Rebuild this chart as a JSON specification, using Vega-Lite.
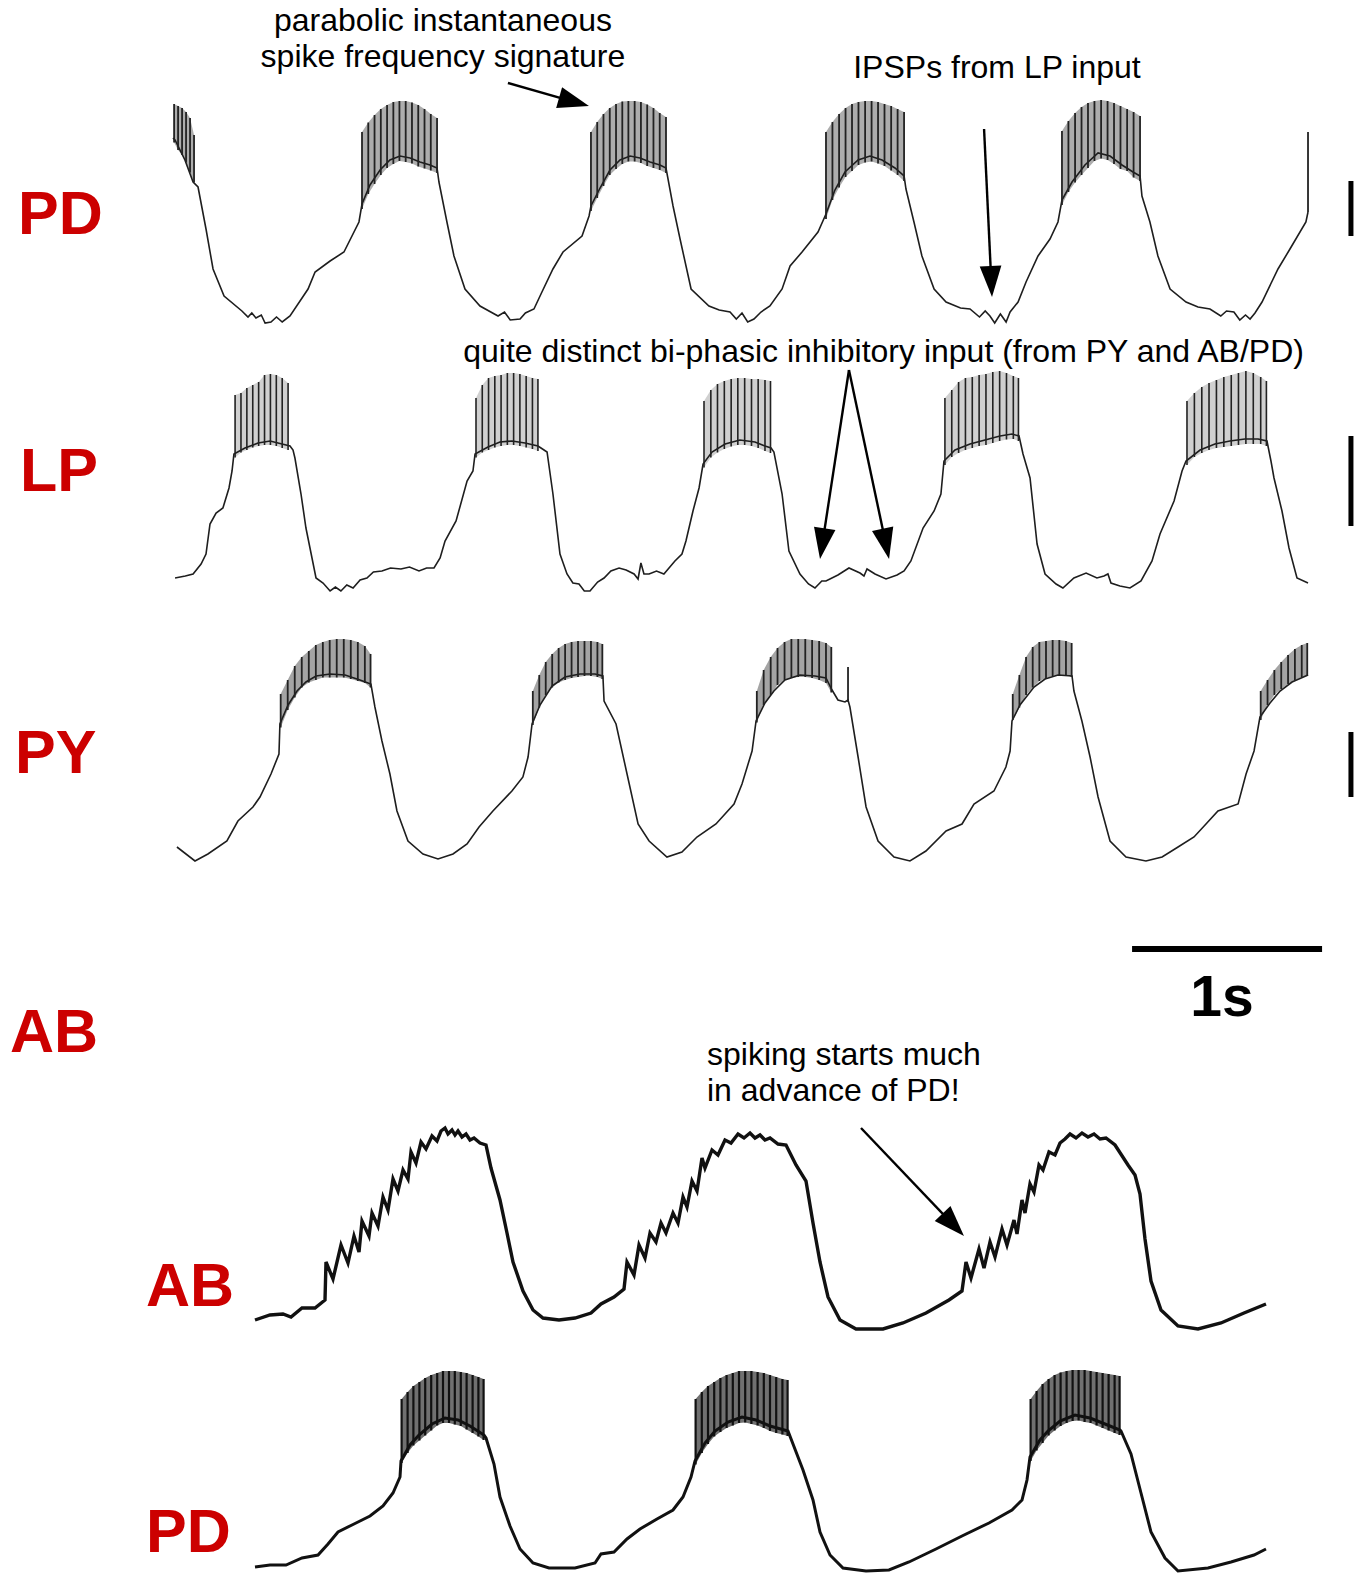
{
"$schema": "https://vega.github.io/schema/vega-lite/v6.json",
"padding": 0,
"spacing": 0,
"bounds": "flush",
"background": "white",
"config": {"view": {"stroke": null}, "text": {"font": "Liberation Sans"}},
"datasets": {
"pdTop": [{"t":0.005,"v":-23.6},{"t":0.016,"v":-24.0},{"t":0.068,"v":-28.0},{"t":0.111,"v":-32.4},{"t":0.137,"v":-33.4},{"t":0.179,"v":-41.8},{"t":0.216,"v":-49.8},{"t":0.274,"v":-55.2},{"t":0.368,"v":-58.2},{"t":0.40,"v":-59.4},{"t":0.42,"v":-58.6},{"t":0.442,"v":-59.6},{"t":0.47,"v":-59.0},{"t":0.49,"v":-60.6},{"t":0.521,"v":-60.4},{"t":0.55,"v":-59.4},{"t":0.58,"v":-60.4},{"t":0.621,"v":-59.2},{"t":0.716,"v":-53.8},{"t":0.753,"v":-50.4},{"t":0.832,"v":-48.2},{"t":0.905,"v":-46.4},{"t":0.984,"v":-40.4},{"t":1.0,"v":-36.8},{"t":1.042,"v":-33.0},{"t":1.095,"v":-30.0},{"t":1.147,"v":-28.0},{"t":1.2,"v":-27.2},{"t":1.253,"v":-27.6},{"t":1.305,"v":-28.4},{"t":1.358,"v":-29.0},{"t":1.395,"v":-29.6},{"t":1.405,"v":-32.4},{"t":1.447,"v":-40.4},{"t":1.484,"v":-47.2},{"t":1.542,"v":-53.8},{"t":1.621,"v":-57.2},{"t":1.716,"v":-59.2},{"t":1.75,"v":-58.4},{"t":1.78,"v":-60.0},{"t":1.832,"v":-59.8},{"t":1.86,"v":-58.6},{"t":1.905,"v":-57.8},{"t":1.947,"v":-54.4},{"t":2.005,"v":-49.8},{"t":2.058,"v":-46.4},{"t":2.158,"v":-43.2},{"t":2.195,"v":-39.2},{"t":2.205,"v":-37.2},{"t":2.253,"v":-33.6},{"t":2.305,"v":-30.0},{"t":2.358,"v":-28.0},{"t":2.411,"v":-27.2},{"t":2.463,"v":-27.6},{"t":2.516,"v":-28.4},{"t":2.568,"v":-29.0},{"t":2.6,"v":-29.6},{"t":2.637,"v":-37.2},{"t":2.674,"v":-43.8},{"t":2.732,"v":-53.8},{"t":2.826,"v":-57.2},{"t":2.88,"v":-58.0},{"t":2.937,"v":-58.4},{"t":2.97,"v":-59.8},{"t":3.0,"v":-58.6},{"t":3.03,"v":-60.4},{"t":3.063,"v":-59.8},{"t":3.1,"v":-58.4},{"t":3.147,"v":-57.2},{"t":3.211,"v":-53.8},{"t":3.253,"v":-49.2},{"t":3.316,"v":-46.4},{"t":3.4,"v":-42.4},{"t":3.442,"v":-38.8},{"t":3.489,"v":-34.0},{"t":3.542,"v":-30.4},{"t":3.611,"v":-28.0},{"t":3.674,"v":-27.2},{"t":3.737,"v":-28.0},{"t":3.805,"v":-29.6},{"t":3.853,"v":-31.2},{"t":3.863,"v":-33.8},{"t":3.905,"v":-40.4},{"t":3.947,"v":-47.2},{"t":4.011,"v":-53.8},{"t":4.074,"v":-56.4},{"t":4.15,"v":-57.6},{"t":4.2,"v":-57.8},{"t":4.25,"v":-59.4},{"t":4.28,"v":-58.2},{"t":4.305,"v":-59.2},{"t":4.33,"v":-60.6},{"t":4.36,"v":-58.8},{"t":4.39,"v":-60.4},{"t":4.411,"v":-58.4},{"t":4.453,"v":-56.4},{"t":4.495,"v":-52.4},{"t":4.558,"v":-47.2},{"t":4.621,"v":-43.8},{"t":4.663,"v":-40.4},{"t":4.684,"v":-36.0},{"t":4.737,"v":-32.4},{"t":4.805,"v":-29.0},{"t":4.874,"v":-26.6},{"t":4.937,"v":-27.2},{"t":5.0,"v":-29.0},{"t":5.058,"v":-30.4},{"t":5.095,"v":-31.2},{"t":5.105,"v":-35.2},{"t":5.147,"v":-40.4},{"t":5.189,"v":-47.2},{"t":5.253,"v":-53.8},{"t":5.337,"v":-56.4},{"t":5.4,"v":-57.4},{"t":5.463,"v":-57.8},{"t":5.52,"v":-59.2},{"t":5.55,"v":-58.2},{"t":5.589,"v":-58.4},{"t":5.62,"v":-60.0},{"t":5.65,"v":-59.0},{"t":5.674,"v":-59.8},{"t":5.70,"v":-58.6},{"t":5.737,"v":-56.4},{"t":5.821,"v":-49.8},{"t":5.884,"v":-45.8},{"t":5.968,"v":-40.4},{"t":5.979,"v":-38.4}],
"pdTopSpk": [{"b":0,"t":0.011,"lo":-24.5,"hi":-16.8},{"b":0,"t":0.032,"lo":-26,"hi":-17.2},{"b":0,"t":0.053,"lo":-27,"hi":-17.6},{"b":0,"t":0.074,"lo":-28.5,"hi":-18.4},{"b":0,"t":0.095,"lo":-30.5,"hi":-19.6},{"b":0,"t":0.116,"lo":-32.5,"hi":-23.0},
{"b":1,"t":1.000,"lo":-37.8,"hi":-22.4},{"b":1,"t":1.033,"lo":-34.8,"hi":-20.5},{"b":1,"t":1.066,"lo":-32.8,"hi":-19.0},{"b":1,"t":1.099,"lo":-31.0,"hi":-17.8},{"b":1,"t":1.132,"lo":-29.6,"hi":-17.0},{"b":1,"t":1.165,"lo":-28.8,"hi":-16.4},{"b":1,"t":1.197,"lo":-28.2,"hi":-16.2},{"b":1,"t":1.230,"lo":-28.4,"hi":-16.2},{"b":1,"t":1.263,"lo":-28.7,"hi":-16.5},{"b":1,"t":1.296,"lo":-29.3,"hi":-17.0},{"b":1,"t":1.329,"lo":-29.7,"hi":-17.8},{"b":1,"t":1.362,"lo":-30.1,"hi":-18.8},{"b":1,"t":1.395,"lo":-30.6,"hi":-19.6},
{"b":2,"t":2.205,"lo":-38.2,"hi":-22.4},{"b":2,"t":2.238,"lo":-35.6,"hi":-20.4},{"b":2,"t":2.271,"lo":-33.2,"hi":-18.8},{"b":2,"t":2.304,"lo":-31.0,"hi":-17.6},{"b":2,"t":2.337,"lo":-29.8,"hi":-16.8},{"b":2,"t":2.370,"lo":-28.8,"hi":-16.3},{"b":2,"t":2.402,"lo":-28.3,"hi":-16.2},{"b":2,"t":2.435,"lo":-28.3,"hi":-16.2},{"b":2,"t":2.468,"lo":-28.6,"hi":-16.4},{"b":2,"t":2.501,"lo":-29.2,"hi":-16.9},{"b":2,"t":2.534,"lo":-29.6,"hi":-17.6},{"b":2,"t":2.567,"lo":-30.0,"hi":-18.6},{"b":2,"t":2.600,"lo":-30.6,"hi":-19.4},
{"b":3,"t":3.442,"lo":-39.8,"hi":-22.4},{"b":3,"t":3.476,"lo":-36.0,"hi":-20.4},{"b":3,"t":3.511,"lo":-33.5,"hi":-18.8},{"b":3,"t":3.545,"lo":-31.4,"hi":-17.6},{"b":3,"t":3.579,"lo":-30.2,"hi":-16.8},{"b":3,"t":3.613,"lo":-29.0,"hi":-16.4},{"b":3,"t":3.648,"lo":-28.5,"hi":-16.2},{"b":3,"t":3.682,"lo":-28.3,"hi":-16.2},{"b":3,"t":3.716,"lo":-28.7,"hi":-16.4},{"b":3,"t":3.750,"lo":-29.2,"hi":-16.8},{"b":3,"t":3.785,"lo":-30.1,"hi":-17.2},{"b":3,"t":3.819,"lo":-31.0,"hi":-17.8},{"b":3,"t":3.853,"lo":-32.2,"hi":-18.4},
{"b":4,"t":4.684,"lo":-37.0,"hi":-22.2},{"b":4,"t":4.718,"lo":-34.4,"hi":-20.2},{"b":4,"t":4.753,"lo":-32.5,"hi":-18.6},{"b":4,"t":4.787,"lo":-31.0,"hi":-17.4},{"b":4,"t":4.821,"lo":-29.6,"hi":-16.6},{"b":4,"t":4.855,"lo":-28.2,"hi":-16.2},{"b":4,"t":4.890,"lo":-27.7,"hi":-16.0},{"b":4,"t":4.924,"lo":-28.0,"hi":-16.2},{"b":4,"t":4.958,"lo":-28.8,"hi":-16.6},{"b":4,"t":4.992,"lo":-29.8,"hi":-17.2},{"b":4,"t":5.027,"lo":-30.2,"hi":-17.8},{"b":4,"t":5.061,"lo":-31.5,"hi":-18.4},{"b":4,"t":5.095,"lo":-32.2,"hi":-19.2},
{"b":5,"t":5.979,"lo":-38.4,"hi":-22.4}],
"lp": [{"t":0.016,"v":-57.6},{"t":0.07,"v":-57.2},{"t":0.111,"v":-56.8},{"t":0.153,"v":-54.8},{"t":0.179,"v":-52.8},{"t":0.2,"v":-46.8},{"t":0.232,"v":-44.6},{"t":0.268,"v":-43.6},{"t":0.3,"v":-39.6},{"t":0.316,"v":-36.2},{"t":0.326,"v":-32.8},{"t":0.384,"v":-31.6},{"t":0.453,"v":-30.6},{"t":0.516,"v":-30.2},{"t":0.579,"v":-30.8},{"t":0.621,"v":-31.2},{"t":0.637,"v":-32.0},{"t":0.647,"v":-33.6},{"t":0.679,"v":-40.8},{"t":0.705,"v":-47.6},{"t":0.758,"v":-57.6},{"t":0.795,"v":-58.6},{"t":0.832,"v":-60.2},{"t":0.86,"v":-59.4},{"t":0.889,"v":-60.2},{"t":0.92,"v":-59.0},{"t":0.953,"v":-59.6},{"t":0.99,"v":-58.0},{"t":1.026,"v":-57.6},{"t":1.06,"v":-56.4},{"t":1.105,"v":-56.2},{"t":1.15,"v":-55.6},{"t":1.205,"v":-55.8},{"t":1.25,"v":-55.4},{"t":1.3,"v":-56.2},{"t":1.34,"v":-55.6},{"t":1.379,"v":-55.6},{"t":1.411,"v":-53.6},{"t":1.437,"v":-50.2},{"t":1.495,"v":-46.2},{"t":1.553,"v":-38.2},{"t":1.584,"v":-36.2},{"t":1.595,"v":-32.8},{"t":1.663,"v":-31.4},{"t":1.726,"v":-30.4},{"t":1.789,"v":-30.2},{"t":1.858,"v":-30.6},{"t":1.926,"v":-31.2},{"t":1.942,"v":-31.6},{"t":1.974,"v":-32.4},{"t":2.005,"v":-40.8},{"t":2.042,"v":-52.8},{"t":2.079,"v":-56.8},{"t":2.11,"v":-58.6},{"t":2.142,"v":-58.8},{"t":2.17,"v":-60.2},{"t":2.2,"v":-60.2},{"t":2.24,"v":-58.4},{"t":2.274,"v":-57.6},{"t":2.31,"v":-56.2},{"t":2.353,"v":-55.6},{"t":2.39,"v":-56.0},{"t":2.432,"v":-56.8},{"t":2.453,"v":-57.8},{"t":2.468,"v":-54.6},{"t":2.484,"v":-56.8},{"t":2.511,"v":-56.8},{"t":2.55,"v":-56.2},{"t":2.589,"v":-56.8},{"t":2.647,"v":-54.2},{"t":2.684,"v":-52.8},{"t":2.705,"v":-50.2},{"t":2.742,"v":-44.2},{"t":2.774,"v":-39.6},{"t":2.795,"v":-34.8},{"t":2.842,"v":-32.4},{"t":2.911,"v":-30.8},{"t":2.989,"v":-30.0},{"t":3.068,"v":-30.4},{"t":3.121,"v":-31.2},{"t":3.153,"v":-31.6},{"t":3.168,"v":-32.4},{"t":3.211,"v":-40.8},{"t":3.247,"v":-52.2},{"t":3.305,"v":-56.8},{"t":3.35,"v":-58.8},{"t":3.384,"v":-59.6},{"t":3.42,"v":-58.2},{"t":3.442,"v":-58.2},{"t":3.505,"v":-57.0},{"t":3.563,"v":-55.6},{"t":3.621,"v":-56.6},{"t":3.642,"v":-57.2},{"t":3.658,"v":-55.8},{"t":3.7,"v":-56.8},{"t":3.758,"v":-57.8},{"t":3.816,"v":-57.0},{"t":3.853,"v":-56.2},{"t":3.889,"v":-54.2},{"t":3.953,"v":-47.6},{"t":4.011,"v":-44.2},{"t":4.047,"v":-40.8},{"t":4.063,"v":-34.2},{"t":4.121,"v":-32.0},{"t":4.2,"v":-30.8},{"t":4.279,"v":-30.0},{"t":4.358,"v":-29.2},{"t":4.421,"v":-28.8},{"t":4.458,"v":-29.2},{"t":4.479,"v":-32.8},{"t":4.516,"v":-37.6},{"t":4.553,"v":-50.8},{"t":4.595,"v":-56.8},{"t":4.653,"v":-58.8},{"t":4.689,"v":-59.6},{"t":4.747,"v":-57.6},{"t":4.811,"v":-56.6},{"t":4.868,"v":-57.6},{"t":4.905,"v":-57.2},{"t":4.926,"v":-56.8},{"t":4.942,"v":-58.6},{"t":4.989,"v":-59.2},{"t":5.042,"v":-59.6},{"t":5.1,"v":-58.2},{"t":5.158,"v":-54.2},{"t":5.2,"v":-48.8},{"t":5.274,"v":-42.2},{"t":5.316,"v":-36.2},{"t":5.337,"v":-34.2},{"t":5.411,"v":-32.0},{"t":5.489,"v":-30.8},{"t":5.568,"v":-30.2},{"t":5.647,"v":-29.8},{"t":5.716,"v":-29.8},{"t":5.763,"v":-30.2},{"t":5.784,"v":-34.2},{"t":5.8,"v":-37.6},{"t":5.842,"v":-44.2},{"t":5.879,"v":-51.6},{"t":5.921,"v":-57.6},{"t":5.979,"v":-58.6}],
"lpSpk": [{"b":1,"t":0.332,"lo":-33.5,"hi":-21.0},{"b":1,"t":0.363,"lo":-32.5,"hi":-20.6},{"b":1,"t":0.394,"lo":-32.0,"hi":-19.6},{"b":1,"t":0.425,"lo":-31.5,"hi":-19.0},{"b":1,"t":0.456,"lo":-31.2,"hi":-18.4},{"b":1,"t":0.487,"lo":-31.0,"hi":-17.0},{"b":1,"t":0.518,"lo":-31.0,"hi":-16.8},{"b":1,"t":0.549,"lo":-31.2,"hi":-17.0},{"b":1,"t":0.580,"lo":-31.6,"hi":-17.6},{"b":1,"t":0.611,"lo":-32.0,"hi":-18.6},
{"b":2,"t":1.600,"lo":-33.5,"hi":-21.6},{"b":2,"t":1.633,"lo":-32.5,"hi":-19.0},{"b":2,"t":1.666,"lo":-32.0,"hi":-17.6},{"b":2,"t":1.699,"lo":-31.5,"hi":-17.2},{"b":2,"t":1.732,"lo":-31.2,"hi":-17.0},{"b":2,"t":1.765,"lo":-31.0,"hi":-16.6},{"b":2,"t":1.798,"lo":-31.0,"hi":-16.6},{"b":2,"t":1.831,"lo":-31.2,"hi":-16.8},{"b":2,"t":1.864,"lo":-31.5,"hi":-17.2},{"b":2,"t":1.897,"lo":-31.8,"hi":-17.6},{"b":2,"t":1.926,"lo":-32.2,"hi":-17.8},
{"b":3,"t":2.800,"lo":-35.5,"hi":-22.2},{"b":3,"t":2.836,"lo":-33.5,"hi":-20.0},{"b":3,"t":2.871,"lo":-32.5,"hi":-18.8},{"b":3,"t":2.907,"lo":-31.8,"hi":-18.2},{"b":3,"t":2.943,"lo":-31.3,"hi":-17.8},{"b":3,"t":2.978,"lo":-31.0,"hi":-17.6},{"b":3,"t":3.014,"lo":-31.0,"hi":-17.6},{"b":3,"t":3.050,"lo":-31.2,"hi":-17.8},{"b":3,"t":3.085,"lo":-31.6,"hi":-17.8},{"b":3,"t":3.121,"lo":-32.2,"hi":-18.0},{"b":3,"t":3.150,"lo":-32.6,"hi":-18.2},
{"b":4,"t":4.068,"lo":-35.0,"hi":-21.6},{"b":4,"t":4.104,"lo":-33.4,"hi":-20.0},{"b":4,"t":4.140,"lo":-32.6,"hi":-18.4},{"b":4,"t":4.176,"lo":-32.0,"hi":-17.6},{"b":4,"t":4.212,"lo":-31.6,"hi":-17.4},{"b":4,"t":4.248,"lo":-31.2,"hi":-17.0},{"b":4,"t":4.284,"lo":-31.0,"hi":-16.8},{"b":4,"t":4.320,"lo":-30.6,"hi":-16.4},{"b":4,"t":4.356,"lo":-30.2,"hi":-16.2},{"b":4,"t":4.392,"lo":-29.9,"hi":-16.6},{"b":4,"t":4.428,"lo":-29.8,"hi":-17.2},{"b":4,"t":4.455,"lo":-30.2,"hi":-17.6},
{"b":5,"t":5.342,"lo":-35.0,"hi":-22.2},{"b":5,"t":5.381,"lo":-33.4,"hi":-20.6},{"b":5,"t":5.420,"lo":-32.6,"hi":-19.4},{"b":5,"t":5.458,"lo":-32.0,"hi":-18.6},{"b":5,"t":5.497,"lo":-31.6,"hi":-18.0},{"b":5,"t":5.536,"lo":-31.4,"hi":-17.4},{"b":5,"t":5.575,"lo":-31.2,"hi":-17.0},{"b":5,"t":5.613,"lo":-31.0,"hi":-16.6},{"b":5,"t":5.652,"lo":-30.8,"hi":-16.2},{"b":5,"t":5.691,"lo":-30.8,"hi":-16.6},{"b":5,"t":5.730,"lo":-30.8,"hi":-17.4},{"b":5,"t":5.760,"lo":-31.2,"hi":-18.2}],
"py": [{"t":0.026,"v":-57.4},{"t":0.121,"v":-60.2},{"t":0.189,"v":-58.8},{"t":0.289,"v":-56.2},{"t":0.347,"v":-52.2},{"t":0.426,"v":-49.4},{"t":0.463,"v":-47.4},{"t":0.521,"v":-42.8},{"t":0.563,"v":-38.8},{"t":0.568,"v":-32.8},{"t":0.611,"v":-29.0},{"t":0.658,"v":-26.2},{"t":0.705,"v":-24.4},{"t":0.758,"v":-23.2},{"t":0.832,"v":-22.8},{"t":0.911,"v":-23.0},{"t":0.989,"v":-24.0},{"t":1.047,"v":-24.8},{"t":1.068,"v":-29.4},{"t":1.105,"v":-36.2},{"t":1.147,"v":-42.8},{"t":1.184,"v":-50.2},{"t":1.242,"v":-56.2},{"t":1.321,"v":-58.8},{"t":1.4,"v":-59.8},{"t":1.479,"v":-58.8},{"t":1.553,"v":-56.8},{"t":1.616,"v":-53.4},{"t":1.689,"v":-50.2},{"t":1.789,"v":-46.2},{"t":1.847,"v":-43.4},{"t":1.874,"v":-39.4},{"t":1.895,"v":-32.8},{"t":1.937,"v":-29.0},{"t":2.0,"v":-25.2},{"t":2.068,"v":-23.4},{"t":2.147,"v":-22.8},{"t":2.226,"v":-22.8},{"t":2.268,"v":-23.2},{"t":2.274,"v":-28.2},{"t":2.337,"v":-32.8},{"t":2.395,"v":-42.8},{"t":2.453,"v":-52.8},{"t":2.511,"v":-56.2},{"t":2.605,"v":-59.4},{"t":2.684,"v":-58.4},{"t":2.763,"v":-55.4},{"t":2.863,"v":-52.8},{"t":2.958,"v":-48.8},{"t":3.0,"v":-44.8},{"t":3.053,"v":-38.2},{"t":3.074,"v":-32.2},{"t":3.121,"v":-28.6},{"t":3.168,"v":-26.2},{"t":3.226,"v":-24.0},{"t":3.305,"v":-23.0},{"t":3.384,"v":-23.2},{"t":3.442,"v":-23.6},{"t":3.474,"v":-26.0},{"t":3.505,"v":-28.0},{"t":3.542,"v":-28.4},{"t":3.558,"v":-28.0},{"t":3.568,"v":-29.4},{"t":3.611,"v":-39.4},{"t":3.653,"v":-49.4},{"t":3.716,"v":-56.2},{"t":3.8,"v":-59.4},{"t":3.884,"v":-60.2},{"t":3.968,"v":-58.2},{"t":4.074,"v":-54.2},{"t":4.158,"v":-52.8},{"t":4.221,"v":-48.8},{"t":4.326,"v":-46.2},{"t":4.389,"v":-41.4},{"t":4.411,"v":-38.2},{"t":4.421,"v":-32.2},{"t":4.463,"v":-29.0},{"t":4.537,"v":-25.4},{"t":4.595,"v":-23.8},{"t":4.663,"v":-23.0},{"t":4.737,"v":-23.2},{"t":4.747,"v":-26.2},{"t":4.789,"v":-32.2},{"t":4.832,"v":-39.4},{"t":4.874,"v":-47.4},{"t":4.937,"v":-56.2},{"t":5.021,"v":-59.4},{"t":5.126,"v":-60.2},{"t":5.211,"v":-59.4},{"t":5.295,"v":-57.4},{"t":5.379,"v":-55.4},{"t":5.442,"v":-52.8},{"t":5.505,"v":-50.2},{"t":5.611,"v":-48.8},{"t":5.653,"v":-42.8},{"t":5.695,"v":-38.2},{"t":5.726,"v":-31.4},{"t":5.779,"v":-28.6},{"t":5.832,"v":-26.2},{"t":5.895,"v":-24.4},{"t":5.979,"v":-23.0}],
"pySpk": [{"b":1,"t":0.572,"lo":-33.5,"hi":-26.8},{"b":1,"t":0.609,"lo":-30.0,"hi":-24.0},{"b":1,"t":0.646,"lo":-27.5,"hi":-21.2},{"b":1,"t":0.683,"lo":-25.5,"hi":-19.4},{"b":1,"t":0.720,"lo":-24.5,"hi":-18.2},{"b":1,"t":0.757,"lo":-24.0,"hi":-17.0},{"b":1,"t":0.794,"lo":-23.5,"hi":-16.4},{"b":1,"t":0.830,"lo":-23.5,"hi":-16.0},{"b":1,"t":0.867,"lo":-23.5,"hi":-15.8},{"b":1,"t":0.904,"lo":-23.5,"hi":-15.8},{"b":1,"t":0.941,"lo":-23.8,"hi":-16.0},{"b":1,"t":0.978,"lo":-24.2,"hi":-16.4},{"b":1,"t":1.015,"lo":-24.6,"hi":-17.2},{"b":1,"t":1.045,"lo":-25.5,"hi":-18.8},
{"b":2,"t":1.899,"lo":-33.0,"hi":-26.2},{"b":2,"t":1.933,"lo":-29.5,"hi":-23.0},{"b":2,"t":1.967,"lo":-27.0,"hi":-20.4},{"b":2,"t":2.001,"lo":-25.5,"hi":-18.8},{"b":2,"t":2.035,"lo":-24.5,"hi":-17.6},{"b":2,"t":2.069,"lo":-24.0,"hi":-16.8},{"b":2,"t":2.103,"lo":-23.6,"hi":-16.4},{"b":2,"t":2.137,"lo":-23.4,"hi":-16.2},{"b":2,"t":2.171,"lo":-23.2,"hi":-16.2},{"b":2,"t":2.205,"lo":-23.2,"hi":-16.2},{"b":2,"t":2.239,"lo":-23.4,"hi":-16.4},{"b":2,"t":2.265,"lo":-23.8,"hi":-16.8},
{"b":3,"t":3.078,"lo":-32.5,"hi":-26.2},{"b":3,"t":3.114,"lo":-29.0,"hi":-22.0},{"b":3,"t":3.151,"lo":-27.0,"hi":-19.4},{"b":3,"t":3.187,"lo":-25.0,"hi":-17.6},{"b":3,"t":3.224,"lo":-24.0,"hi":-16.4},{"b":3,"t":3.260,"lo":-23.6,"hi":-15.8},{"b":3,"t":3.296,"lo":-23.4,"hi":-15.8},{"b":3,"t":3.333,"lo":-23.4,"hi":-15.8},{"b":3,"t":3.369,"lo":-23.6,"hi":-16.0},{"b":3,"t":3.406,"lo":-24.0,"hi":-16.2},{"b":3,"t":3.442,"lo":-24.6,"hi":-16.6},{"b":3,"t":3.470,"lo":-26.5,"hi":-17.4},{"b":6,"t":3.558,"lo":-28.4,"hi":-21.4},
{"b":4,"t":4.425,"lo":-32.0,"hi":-26.8},{"b":4,"t":4.460,"lo":-29.5,"hi":-23.0},{"b":4,"t":4.495,"lo":-27.0,"hi":-19.4},{"b":4,"t":4.530,"lo":-25.5,"hi":-17.4},{"b":4,"t":4.565,"lo":-24.2,"hi":-16.4},{"b":4,"t":4.600,"lo":-23.6,"hi":-16.2},{"b":4,"t":4.635,"lo":-23.2,"hi":-16.0},{"b":4,"t":4.670,"lo":-23.0,"hi":-16.0},{"b":4,"t":4.705,"lo":-23.0,"hi":-16.2},{"b":4,"t":4.735,"lo":-23.4,"hi":-16.6},
{"b":5,"t":5.730,"lo":-32.0,"hi":-26.2},{"b":5,"t":5.766,"lo":-29.0,"hi":-24.0},{"b":5,"t":5.802,"lo":-27.0,"hi":-22.0},{"b":5,"t":5.838,"lo":-25.8,"hi":-20.4},{"b":5,"t":5.874,"lo":-24.8,"hi":-19.0},{"b":5,"t":5.910,"lo":-24.0,"hi":-17.8},{"b":5,"t":5.946,"lo":-23.4,"hi":-17.0},{"b":5,"t":5.975,"lo":-23.2,"hi":-16.6}],
"ab": [{"t":0.025,"v":-60.0},{"t":0.1,"v":-59.0},{"t":0.165,"v":-58.8},{"t":0.205,"v":-59.4},{"t":0.26,"v":-57.6},{"t":0.325,"v":-57.6},{"t":0.375,"v":-56.0},{"t":0.38,"v":-48.4},{"t":0.415,"v":-51.8},{"t":0.455,"v":-45.0},{"t":0.49,"v":-48.6},{"t":0.52,"v":-43.2},{"t":0.545,"v":-46.4},{"t":0.56,"v":-40.2},{"t":0.595,"v":-43.2},{"t":0.61,"v":-38.6},{"t":0.64,"v":-41.2},{"t":0.665,"v":-35.4},{"t":0.69,"v":-38.0},{"t":0.715,"v":-31.8},{"t":0.74,"v":-34.2},{"t":0.765,"v":-30.0},{"t":0.79,"v":-31.8},{"t":0.805,"v":-26.4},{"t":0.83,"v":-28.6},{"t":0.855,"v":-24.4},{"t":0.88,"v":-25.8},{"t":0.91,"v":-23.2},{"t":0.935,"v":-24.2},{"t":0.955,"v":-22.2},{"t":0.975,"v":-21.6},{"t":0.99,"v":-22.8},{"t":1.01,"v":-22.0},{"t":1.025,"v":-23.0},{"t":1.04,"v":-22.2},{"t":1.06,"v":-23.4},{"t":1.08,"v":-22.8},{"t":1.1,"v":-24.0},{"t":1.12,"v":-23.6},{"t":1.15,"v":-24.6},{"t":1.18,"v":-25.0},{"t":1.205,"v":-29.6},{"t":1.25,"v":-36.0},{"t":1.285,"v":-42.6},{"t":1.315,"v":-48.4},{"t":1.365,"v":-54.2},{"t":1.415,"v":-58.0},{"t":1.465,"v":-59.6},{"t":1.545,"v":-60.0},{"t":1.625,"v":-59.6},{"t":1.705,"v":-58.6},{"t":1.755,"v":-56.8},{"t":1.82,"v":-55.4},{"t":1.87,"v":-53.8},{"t":1.885,"v":-48.4},{"t":1.92,"v":-51.0},{"t":1.945,"v":-45.0},{"t":1.975,"v":-47.6},{"t":2.0,"v":-42.6},{"t":2.03,"v":-44.4},{"t":2.055,"v":-40.6},{"t":2.08,"v":-42.6},{"t":2.115,"v":-38.6},{"t":2.14,"v":-40.6},{"t":2.165,"v":-35.4},{"t":2.185,"v":-37.4},{"t":2.21,"v":-32.2},{"t":2.235,"v":-34.2},{"t":2.26,"v":-27.6},{"t":2.275,"v":-29.6},{"t":2.31,"v":-26.0},{"t":2.34,"v":-27.0},{"t":2.375,"v":-24.0},{"t":2.405,"v":-24.6},{"t":2.44,"v":-22.8},{"t":2.47,"v":-23.6},{"t":2.5,"v":-22.6},{"t":2.525,"v":-23.6},{"t":2.55,"v":-23.0},{"t":2.575,"v":-24.0},{"t":2.6,"v":-23.6},{"t":2.64,"v":-24.8},{"t":2.68,"v":-25.0},{"t":2.73,"v":-29.0},{"t":2.78,"v":-32.2},{"t":2.815,"v":-40.6},{"t":2.85,"v":-48.4},{"t":2.89,"v":-55.4},{"t":2.95,"v":-60.0},{"t":3.03,"v":-61.8},{"t":3.165,"v":-61.8},{"t":3.265,"v":-60.6},{"t":3.38,"v":-58.6},{"t":3.495,"v":-56.0},{"t":3.56,"v":-54.2},{"t":3.58,"v":-48.4},{"t":3.605,"v":-51.6},{"t":3.645,"v":-45.8},{"t":3.67,"v":-49.6},{"t":3.7,"v":-44.4},{"t":3.725,"v":-47.4},{"t":3.76,"v":-41.8},{"t":3.785,"v":-45.0},{"t":3.82,"v":-40.0},{"t":3.835,"v":-42.8},{"t":3.86,"v":-36.0},{"t":3.875,"v":-38.6},{"t":3.9,"v":-32.8},{"t":3.92,"v":-34.4},{"t":3.945,"v":-29.0},{"t":3.965,"v":-30.0},{"t":3.995,"v":-26.4},{"t":4.025,"v":-27.0},{"t":4.05,"v":-24.6},{"t":4.075,"v":-23.8},{"t":4.1,"v":-22.8},{"t":4.13,"v":-23.6},{"t":4.16,"v":-22.6},{"t":4.19,"v":-23.4},{"t":4.22,"v":-22.8},{"t":4.25,"v":-23.8},{"t":4.28,"v":-23.6},{"t":4.325,"v":-25.0},{"t":4.39,"v":-29.0},{"t":4.425,"v":-31.0},{"t":4.45,"v":-34.8},{"t":4.475,"v":-43.8},{"t":4.505,"v":-52.2},{"t":4.555,"v":-58.0},{"t":4.64,"v":-61.2},{"t":4.74,"v":-61.8},{"t":4.855,"v":-60.6},{"t":4.97,"v":-58.6},{"t":5.08,"v":-56.8}],
"pdBot": [{"t":0.025,"v":-59.8},{"t":0.1,"v":-59.4},{"t":0.18,"v":-59.4},{"t":0.26,"v":-58.0},{"t":0.34,"v":-57.4},{"t":0.39,"v":-55.2},{"t":0.44,"v":-52.8},{"t":0.52,"v":-51.2},{"t":0.6,"v":-49.6},{"t":0.665,"v":-47.6},{"t":0.715,"v":-45.0},{"t":0.75,"v":-41.8},{"t":0.755,"v":-38.6},{"t":0.8,"v":-35.4},{"t":0.845,"v":-33.4},{"t":0.91,"v":-31.2},{"t":0.975,"v":-30.0},{"t":1.04,"v":-30.4},{"t":1.1,"v":-31.6},{"t":1.17,"v":-33.4},{"t":1.18,"v":-34.0},{"t":1.22,"v":-39.2},{"t":1.25,"v":-45.8},{"t":1.3,"v":-51.6},{"t":1.35,"v":-56.2},{"t":1.415,"v":-59.0},{"t":1.495,"v":-60.0},{"t":1.625,"v":-60.0},{"t":1.725,"v":-59.0},{"t":1.755,"v":-57.2},{"t":1.82,"v":-56.8},{"t":1.885,"v":-54.2},{"t":1.95,"v":-52.2},{"t":2.035,"v":-50.2},{"t":2.115,"v":-48.4},{"t":2.165,"v":-45.8},{"t":2.205,"v":-41.8},{"t":2.225,"v":-38.6},{"t":2.275,"v":-35.0},{"t":2.325,"v":-32.6},{"t":2.39,"v":-30.8},{"t":2.46,"v":-29.8},{"t":2.53,"v":-30.4},{"t":2.6,"v":-31.6},{"t":2.69,"v":-32.6},{"t":2.715,"v":-35.2},{"t":2.765,"v":-40.4},{"t":2.815,"v":-46.4},{"t":2.85,"v":-52.8},{"t":2.9,"v":-57.4},{"t":2.965,"v":-60.0},{"t":3.08,"v":-60.6},{"t":3.195,"v":-60.4},{"t":3.295,"v":-58.8},{"t":3.43,"v":-56.2},{"t":3.56,"v":-53.6},{"t":3.695,"v":-51.0},{"t":3.81,"v":-48.4},{"t":3.86,"v":-46.4},{"t":3.885,"v":-42.4},{"t":3.9,"v":-37.8},{"t":3.95,"v":-34.4},{"t":3.99,"v":-32.6},{"t":4.05,"v":-30.6},{"t":4.125,"v":-29.4},{"t":4.2,"v":-30.0},{"t":4.275,"v":-31.2},{"t":4.35,"v":-32.4},{"t":4.355,"v":-32.6},{"t":4.405,"v":-37.2},{"t":4.455,"v":-45.0},{"t":4.505,"v":-52.8},{"t":4.575,"v":-58.0},{"t":4.64,"v":-60.6},{"t":4.79,"v":-60.0},{"t":4.905,"v":-58.8},{"t":5.02,"v":-57.4},{"t":5.08,"v":-56.2}],
"pdBotSpk": [{"b":1,"t":0.758,"lo":-39.0,"hi":-26.2},{"b":1,"t":0.788,"lo":-37.0,"hi":-24.8},{"b":1,"t":0.817,"lo":-35.5,"hi":-23.6},{"b":1,"t":0.847,"lo":-34.5,"hi":-22.8},{"b":1,"t":0.876,"lo":-33.5,"hi":-22.0},{"b":1,"t":0.906,"lo":-32.5,"hi":-21.4},{"b":1,"t":0.936,"lo":-31.5,"hi":-21.0},{"b":1,"t":0.965,"lo":-31.0,"hi":-20.6},{"b":1,"t":0.995,"lo":-31.0,"hi":-20.6},{"b":1,"t":1.024,"lo":-31.3,"hi":-20.6},{"b":1,"t":1.054,"lo":-31.6,"hi":-20.8},{"b":1,"t":1.083,"lo":-32.3,"hi":-21.0},{"b":1,"t":1.113,"lo":-33.0,"hi":-21.4},{"b":1,"t":1.142,"lo":-33.7,"hi":-21.8},{"b":1,"t":1.168,"lo":-34.4,"hi":-22.2},
{"b":2,"t":2.228,"lo":-39.3,"hi":-26.2},{"b":2,"t":2.259,"lo":-37.0,"hi":-24.8},{"b":2,"t":2.290,"lo":-35.2,"hi":-23.6},{"b":2,"t":2.321,"lo":-33.7,"hi":-22.8},{"b":2,"t":2.352,"lo":-32.8,"hi":-22.0},{"b":2,"t":2.383,"lo":-32.0,"hi":-21.4},{"b":2,"t":2.414,"lo":-31.5,"hi":-21.0},{"b":2,"t":2.445,"lo":-31.0,"hi":-20.6},{"b":2,"t":2.476,"lo":-30.9,"hi":-20.6},{"b":2,"t":2.507,"lo":-31.2,"hi":-20.6},{"b":2,"t":2.538,"lo":-31.5,"hi":-20.8},{"b":2,"t":2.569,"lo":-32.0,"hi":-21.0},{"b":2,"t":2.600,"lo":-32.6,"hi":-21.4},{"b":2,"t":2.631,"lo":-33.0,"hi":-21.8},{"b":2,"t":2.662,"lo":-33.3,"hi":-22.2},{"b":2,"t":2.688,"lo":-33.6,"hi":-22.4},
{"b":3,"t":3.903,"lo":-38.6,"hi":-26.2},{"b":3,"t":3.933,"lo":-36.5,"hi":-24.6},{"b":3,"t":3.963,"lo":-35.0,"hi":-23.2},{"b":3,"t":3.993,"lo":-33.5,"hi":-22.2},{"b":3,"t":4.023,"lo":-32.5,"hi":-21.4},{"b":3,"t":4.053,"lo":-31.6,"hi":-20.9},{"b":3,"t":4.083,"lo":-31.0,"hi":-20.6},{"b":3,"t":4.113,"lo":-30.6,"hi":-20.4},{"b":3,"t":4.143,"lo":-30.5,"hi":-20.4},{"b":3,"t":4.173,"lo":-30.8,"hi":-20.4},{"b":3,"t":4.203,"lo":-31.0,"hi":-20.6},{"b":3,"t":4.233,"lo":-31.5,"hi":-20.8},{"b":3,"t":4.263,"lo":-32.0,"hi":-21.0},{"b":3,"t":4.293,"lo":-32.5,"hi":-21.2},{"b":3,"t":4.323,"lo":-33.0,"hi":-21.4},{"b":3,"t":4.348,"lo":-33.4,"hi":-21.6}]
},
"vconcat": [
{"width": 1358, "height": 340,
 "layer": [
  {"data": {"name": "pdTopSpk"}, "mark": {"type": "area", "color": "#6a6a6a", "opacity": 0.55},
   "encoding": {"x": {"field": "t", "type": "quantitative", "scale": {"domain": [-0.905263, 6.242105], "nice": false, "zero": false}, "axis": null},
                "y": {"field": "lo", "type": "quantitative", "scale": {"domain": [-64, 4], "nice": false, "zero": false}, "axis": null}, "y2": {"field": "hi"}, "detail": {"field": "b", "type": "nominal"}}},
  {"data": {"name": "pdTop"}, "mark": {"type": "line", "color": "#1e1e1e", "strokeWidth": 1.6},
   "encoding": {"x": {"field": "t", "type": "quantitative"}, "y": {"field": "v", "type": "quantitative"}}},
  {"data": {"name": "pdTopSpk"}, "mark": {"type": "rule", "color": "#222222", "strokeWidth": 1.8},
   "encoding": {"x": {"field": "t", "type": "quantitative"}, "y": {"field": "lo", "type": "quantitative"}, "y2": {"field": "hi"}}},
  {"data": {"values": [{"t": 6.205, "lo": -43.2, "hi": -32.2}]}, "mark": {"type": "rule", "color": "black", "strokeWidth": 5},
   "encoding": {"x": {"field": "t", "type": "quantitative"}, "y": {"field": "lo", "type": "quantitative"}, "y2": {"field": "hi"}}},
  {"data": {"values": [{"t": -0.8105, "v": -42.8, "label": "PD"}]}, "mark": {"type": "text", "color": "#cc0000", "fontSize": 61, "fontWeight": "bold", "align": "left", "baseline": "alphabetic"},
   "encoding": {"x": {"field": "t", "type": "quantitative"}, "y": {"field": "v", "type": "quantitative"}, "text": {"field": "label"}}},
  {"data": {"values": [{"t": 1.426, "v": -2.2, "label": "parabolic instantaneous"}, {"t": 1.426, "v": -9.4, "label": "spike frequency signature"}, {"t": 4.342, "v": -11.6, "label": "IPSPs from LP input"}]},
   "mark": {"type": "text", "color": "black", "fontSize": 32, "align": "center", "baseline": "alphabetic"},
   "encoding": {"x": {"field": "t", "type": "quantitative"}, "y": {"field": "v", "type": "quantitative"}, "text": {"field": "label"}}},
  {"data": {"values": [{"t": 1.768, "v": -12.6, "t2": 2.116, "v2": -16.36}, {"t": 4.274, "v": -21.8, "t2": 4.312, "v2": -52.3}]},
   "mark": {"type": "rule", "color": "black", "strokeWidth": 2.4},
   "encoding": {"x": {"field": "t", "type": "quantitative"}, "y": {"field": "v", "type": "quantitative"}, "x2": {"field": "t2"}, "y2": {"field": "v2"}}},
  {"data": {"values": [{"t": 2.116, "v": -16.36}]}, "mark": {"type": "point", "shape": "M0,-1L-0.7,1L0.7,1Z", "filled": true, "size": 961, "color": "black", "opacity": 1, "angle": 105.85},
   "encoding": {"x": {"field": "t", "type": "quantitative"}, "y": {"field": "v", "type": "quantitative"}}},
  {"data": {"values": [{"t": 4.312, "v": -52.3}]}, "mark": {"type": "point", "shape": "M0,-1L-0.7,1L0.7,1Z", "filled": true, "size": 961, "color": "black", "opacity": 1, "angle": 177.3},
   "encoding": {"x": {"field": "t", "type": "quantitative"}, "y": {"field": "v", "type": "quantitative"}}}
 ]},
{"width": 1358, "height": 270,
 "layer": [
  {"data": {"name": "lpSpk"}, "mark": {"type": "area", "color": "#8a8a8a", "opacity": 0.4},
   "encoding": {"x": {"field": "t", "type": "quantitative", "scale": {"domain": [-0.905263, 6.242105], "nice": false, "zero": false}, "axis": null},
                "y": {"field": "lo", "type": "quantitative", "scale": {"domain": [-64, -10], "nice": false, "zero": false}, "axis": null}, "y2": {"field": "hi"}, "detail": {"field": "b", "type": "nominal"}}},
  {"data": {"name": "lp"}, "mark": {"type": "line", "color": "#1e1e1e", "strokeWidth": 1.6},
   "encoding": {"x": {"field": "t", "type": "quantitative"}, "y": {"field": "v", "type": "quantitative"}}},
  {"data": {"name": "lpSpk"}, "mark": {"type": "rule", "color": "#222222", "strokeWidth": 1.6},
   "encoding": {"x": {"field": "t", "type": "quantitative"}, "y": {"field": "lo", "type": "quantitative"}, "y2": {"field": "hi"}}},
  {"data": {"values": [{"t": 6.205, "lo": -47.2, "hi": -29.2}]}, "mark": {"type": "rule", "color": "black", "strokeWidth": 5},
   "encoding": {"x": {"field": "t", "type": "quantitative"}, "y": {"field": "lo", "type": "quantitative"}, "y2": {"field": "hi"}}},
  {"data": {"values": [{"t": -0.8, "v": -40.2, "label": "LP"}]}, "mark": {"type": "text", "color": "#cc0000", "fontSize": 61, "fontWeight": "bold", "align": "left", "baseline": "alphabetic"},
   "encoding": {"x": {"field": "t", "type": "quantitative"}, "y": {"field": "v", "type": "quantitative"}, "text": {"field": "label"}}},
  {"data": {"values": [{"t": 3.745, "v": -14.4, "label": "quite distinct bi-phasic inhibitory input (from PY and AB/PD)"}]},
   "mark": {"type": "text", "color": "black", "fontSize": 32, "align": "center", "baseline": "alphabetic"},
   "encoding": {"x": {"field": "t", "type": "quantitative"}, "y": {"field": "v", "type": "quantitative"}, "text": {"field": "label"}}},
  {"data": {"values": [{"t": 3.563, "v": -16.0, "t2": 3.423, "v2": -50.74}, {"t": 3.563, "v": -16.0, "t2": 3.757, "v2": -50.76}]},
   "mark": {"type": "rule", "color": "black", "strokeWidth": 2.4},
   "encoding": {"x": {"field": "t", "type": "quantitative"}, "y": {"field": "v", "type": "quantitative"}, "x2": {"field": "t2"}, "y2": {"field": "v2"}}},
  {"data": {"values": [{"t": 3.423, "v": -50.74}]}, "mark": {"type": "point", "shape": "M0,-1L-0.7,1L0.7,1Z", "filled": true, "size": 961, "color": "black", "opacity": 1, "angle": 188.7},
   "encoding": {"x": {"field": "t", "type": "quantitative"}, "y": {"field": "v", "type": "quantitative"}}},
  {"data": {"values": [{"t": 3.757, "v": -50.76}]}, "mark": {"type": "point", "shape": "M0,-1L-0.7,1L0.7,1Z", "filled": true, "size": 961, "color": "black", "opacity": 1, "angle": 168.05},
   "encoding": {"x": {"field": "t", "type": "quantitative"}, "y": {"field": "v", "type": "quantitative"}}}
 ]},
{"width": 1358, "height": 420,
 "layer": [
  {"data": {"name": "pySpk"}, "mark": {"type": "area", "color": "#5a5a5a", "opacity": 0.55},
   "encoding": {"x": {"field": "t", "type": "quantitative", "scale": {"domain": [-0.905263, 6.242105], "nice": false, "zero": false}, "axis": null},
                "y": {"field": "lo", "type": "quantitative", "scale": {"domain": [-94, -10], "nice": false, "zero": false}, "axis": null}, "y2": {"field": "hi"}, "detail": {"field": "b", "type": "nominal"}}},
  {"data": {"name": "py"}, "mark": {"type": "line", "color": "#1e1e1e", "strokeWidth": 1.6},
   "encoding": {"x": {"field": "t", "type": "quantitative"}, "y": {"field": "v", "type": "quantitative"}}},
  {"data": {"name": "pySpk"}, "mark": {"type": "rule", "color": "#222222", "strokeWidth": 1.8},
   "encoding": {"x": {"field": "t", "type": "quantitative"}, "y": {"field": "lo", "type": "quantitative"}, "y2": {"field": "hi"}}},
  {"data": {"values": [{"t": 6.205, "lo": -47.4, "hi": -34.4}]}, "mark": {"type": "rule", "color": "black", "strokeWidth": 5},
   "encoding": {"x": {"field": "t", "type": "quantitative"}, "y": {"field": "lo", "type": "quantitative"}, "y2": {"field": "hi"}}},
  {"data": {"values": [{"t": 5.053, "t2": 6.053, "v": -77.8}]}, "mark": {"type": "rule", "color": "black", "strokeWidth": 6},
   "encoding": {"x": {"field": "t", "type": "quantitative"}, "x2": {"field": "t2"}, "y": {"field": "v", "type": "quantitative"}}},
  {"data": {"values": [{"t": 5.526, "v": -91.2, "label": "1s"}]}, "mark": {"type": "text", "color": "black", "fontSize": 57, "fontWeight": "bold", "align": "center", "baseline": "alphabetic"},
   "encoding": {"x": {"field": "t", "type": "quantitative"}, "y": {"field": "v", "type": "quantitative"}, "text": {"field": "label"}}},
  {"data": {"values": [{"t": -0.826, "v": -42.6, "label": "PY"}]}, "mark": {"type": "text", "color": "#cc0000", "fontSize": 61, "fontWeight": "bold", "align": "left", "baseline": "alphabetic"},
   "encoding": {"x": {"field": "t", "type": "quantitative"}, "y": {"field": "v", "type": "quantitative"}, "text": {"field": "label"}}}
 ]},
{"width": 1358, "height": 315,
 "layer": [
  {"data": {"name": "ab"}, "mark": {"type": "line", "color": "#111111", "strokeWidth": 3.4},
   "encoding": {"x": {"field": "t", "type": "quantitative", "scale": {"domain": [-1.25, 5.54], "nice": false, "zero": false}, "axis": null},
                "y": {"field": "v", "type": "quantitative", "scale": {"domain": [-65, -2], "nice": false, "zero": false}, "axis": null}}},
  {"data": {"values": [{"t": -1.2, "v": -6.4, "label": "AB"}, {"t": -0.52, "v": -57.2, "label": "AB"}]}, "mark": {"type": "text", "color": "#cc0000", "fontSize": 61, "fontWeight": "bold", "align": "left", "baseline": "alphabetic"},
   "encoding": {"x": {"field": "t", "type": "quantitative"}, "y": {"field": "v", "type": "quantitative"}, "text": {"field": "label"}}},
  {"data": {"values": [{"t": 2.285, "v": -9.0, "label": "spiking starts much"}, {"t": 2.285, "v": -16.2, "label": "in advance of PD!"}]},
   "mark": {"type": "text", "color": "black", "fontSize": 32, "align": "left", "baseline": "alphabetic"},
   "encoding": {"x": {"field": "t", "type": "quantitative"}, "y": {"field": "v", "type": "quantitative"}, "text": {"field": "label"}}},
  {"data": {"values": [{"t": 3.055, "v": -21.6, "t2": 3.5165, "v2": -40.96}]},
   "mark": {"type": "rule", "color": "black", "strokeWidth": 2.4},
   "encoding": {"x": {"field": "t", "type": "quantitative"}, "y": {"field": "v", "type": "quantitative"}, "x2": {"field": "t2"}, "y2": {"field": "v2"}}},
  {"data": {"values": [{"t": 3.5165, "v": -40.96}]}, "mark": {"type": "point", "shape": "M0,-1L-0.7,1L0.7,1Z", "filled": true, "size": 961, "color": "black", "opacity": 1, "angle": 136.4},
   "encoding": {"x": {"field": "t", "type": "quantitative"}, "y": {"field": "v", "type": "quantitative"}}}
 ]},
{"width": 1358, "height": 234,
 "layer": [
  {"data": {"name": "pdBotSpk"}, "mark": {"type": "area", "color": "#333333", "opacity": 0.7},
   "encoding": {"x": {"field": "t", "type": "quantitative", "scale": {"domain": [-1.25, 5.54], "nice": false, "zero": false}, "axis": null},
                "y": {"field": "lo", "type": "quantitative", "scale": {"domain": [-62.2, -15.4], "nice": false, "zero": false}, "axis": null}, "y2": {"field": "hi"}, "detail": {"field": "b", "type": "nominal"}}},
  {"data": {"name": "pdBot"}, "mark": {"type": "line", "color": "#111111", "strokeWidth": 3},
   "encoding": {"x": {"field": "t", "type": "quantitative"}, "y": {"field": "v", "type": "quantitative"}}},
  {"data": {"name": "pdBotSpk"}, "mark": {"type": "rule", "color": "#111111", "strokeWidth": 2.2},
   "encoding": {"x": {"field": "t", "type": "quantitative"}, "y": {"field": "lo", "type": "quantitative"}, "y2": {"field": "hi"}}},
  {"data": {"values": [{"t": -0.52, "v": -56.8, "label": "PD"}]}, "mark": {"type": "text", "color": "#cc0000", "fontSize": 61, "fontWeight": "bold", "align": "left", "baseline": "alphabetic"},
   "encoding": {"x": {"field": "t", "type": "quantitative"}, "y": {"field": "v", "type": "quantitative"}, "text": {"field": "label"}}}
 ]}
]
}
